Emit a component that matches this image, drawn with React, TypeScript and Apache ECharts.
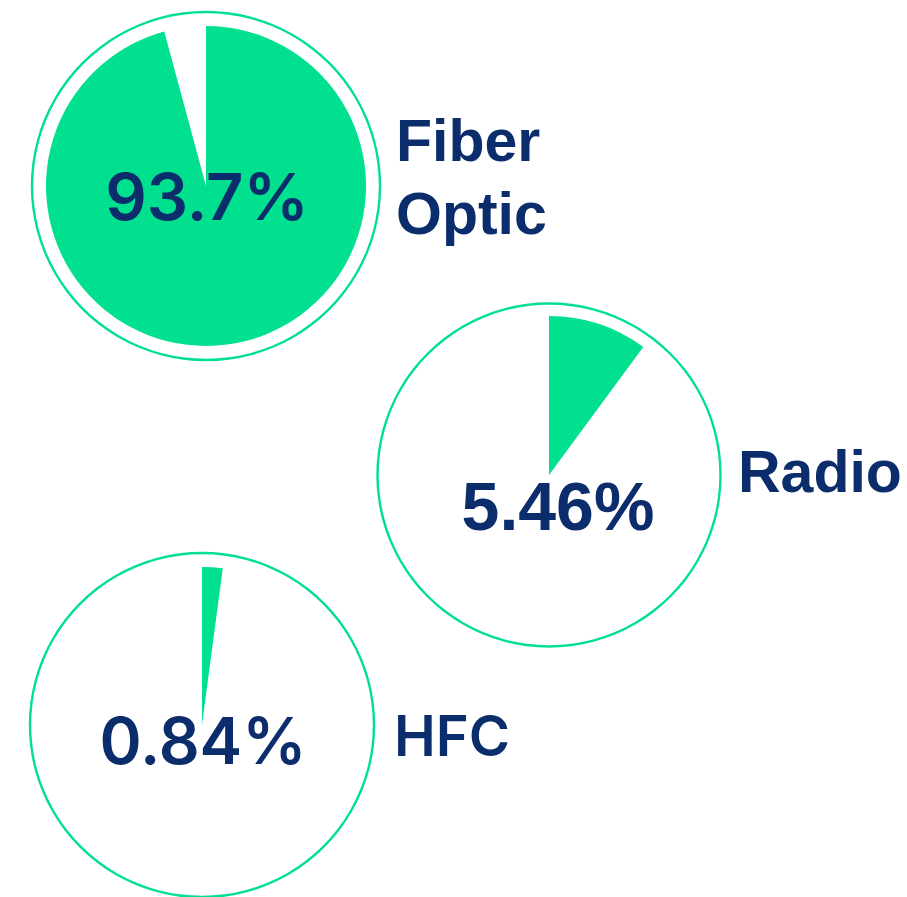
import React, { useEffect, useRef } from "react";
import * as echarts from "echarts";

// Data
const categories = ["Fiber Optic", "Radio", "HFC"];
const percentLabels = ["93.7%", "5.46%", "0.84%"];
// share of the circle covered by each drawn wedge (as drawn in the picture)
const wedgeShares = [95.8, 10.1, 2.1];

const GREEN = "#00E08F";
const NAVY = "#0B2D6B";

// Layout (positions/sizes)
const pieLayout = [
  { center: [206, 186], r: 160, ring: 174 },
  { center: [549, 475], r: 159, ring: 171.5 },
  { center: [202, 725], r: 158, ring: 172 },
];
const percentPos = [
  { x: 207, y: 196, font: "Inter", weight: 600, size: 65 },
  { x: 558, y: 506, font: "Liberation Sans", weight: 700, size: 68 },
  { x: 203, y: 740, font: "Inter", weight: 600, size: 64 },
];
const namePos = [
  { x: 396, y: 177, font: "Liberation Sans", weight: 700, size: 59 },
  { x: 738, y: 472, font: "Liberation Sans", weight: 700, size: 59 },
  { x: 394, y: 736, font: "Inter", weight: 600, size: 56 },
];

export default function App() {
  const ref = useRef<HTMLDivElement>(null);
  useEffect(() => {
    if (!ref.current) return;
    const chart = echarts.init(ref.current, undefined, { renderer: "svg" });
    const series: any[] = [];
    categories.forEach((name, i) => {
      const L = pieLayout[i];
      series.push({
        type: "pie",
        name: name + " ring",
        center: L.center,
        radius: [L.ring - 1.2, L.ring + 1.2],
        silent: true,
        label: { show: false },
        labelLine: { show: false },
        itemStyle: { color: GREEN, borderWidth: 0 },
        data: [{ value: 1, name: name + " ring" }],
      });
      series.push({
        type: "pie",
        name,
        center: L.center,
        radius: [0, L.r],
        startAngle: 90,
        clockwise: true,
        silent: true,
        label: { show: false },
        labelLine: { show: false },
        itemStyle: { borderWidth: 0 },
        data: [
          { value: wedgeShares[i], name, itemStyle: { color: GREEN } },
          { value: 100 - wedgeShares[i], name: name + " rest", itemStyle: { color: "rgba(0,0,0,0)" } },
        ],
      });
    });
    const graphic: any[] = [];
    categories.forEach((name, i) => {
      const p = percentPos[i];
      graphic.push({
        type: "text",
        x: p.x,
        y: p.y,
        z: 100,
        style: {
          text: percentLabels[i],
          fill: NAVY,
          font: `${p.weight} ${p.size}px "${p.font}"`,
          align: "center",
          verticalAlign: "middle",
        },
      });
      const n = namePos[i];
      graphic.push({
        type: "text",
        x: n.x,
        y: n.y,
        z: 100,
        style: {
          text: name.split(" ").join("\n"),
          fill: NAVY,
          font: `${n.weight} ${n.size}px "${n.font}"`,
          lineHeight: 73,
          align: "left",
          verticalAlign: "middle",
        },
      });
    });
    chart.setOption({
      animation: false,
      backgroundColor: "#ffffff",
      series,
      graphic,
    });
    return () => chart.dispose();
  }, []);
  return (
    <div
      ref={ref}
      style={{ position: "absolute", left: 0, top: 0, width: 907, height: 897 }}
    />
  );
}
